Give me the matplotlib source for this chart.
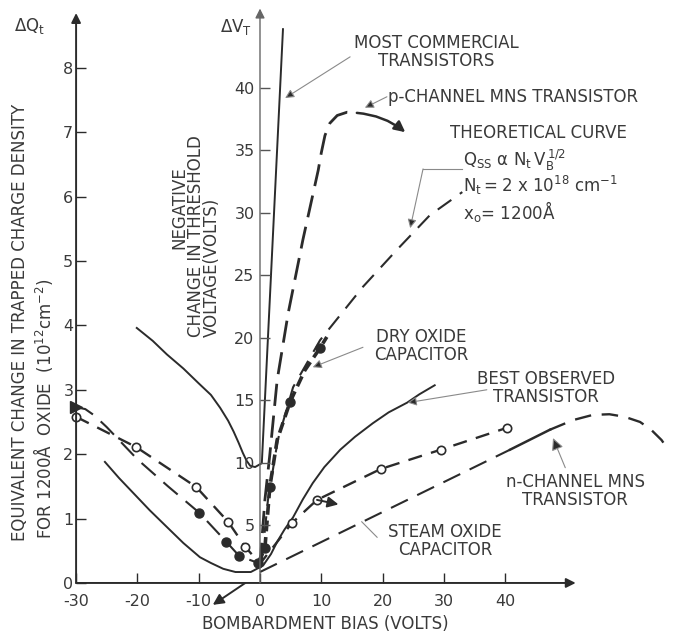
import matplotlib
matplotlib.use('Agg')
import matplotlib.pyplot as plt
import numpy as np

plt.rcParams['font.family'] = ['DejaVu Sans']
plt.rcParams['axes.unicode_minus'] = False

INK = '#2b2b2b'
TXT = '#3a3a3a'
LEAD = '#8a8a8a'

# bombardment bias (V) vs equivalent trapped charge (1e12 cm^-2)
commercial_v = [-20.1, -17.5, -15.2, -12.5, -10.0, -8.0, -6.5, -5.2, -4.3, -3.5,
                -2.8, -2.2, -1.6, -0.8, 0.3, 3.75]
commercial_q = [3.96, 3.76, 3.55, 3.33, 3.10, 2.92, 2.72, 2.52, 2.35, 2.18,
                2.02, 1.90, 1.82, 1.80, 1.86, 8.60]

best_v = [-25.3, -23.0, -20.7, -18.0, -15.2, -12.5, -9.8, -8.0, -6.0, -4.0, -1.5,
          0.5, 1.8, 2.8, 4.0, 5.4, 7.0, 8.6, 10.5, 13.1, 15.5, 18.4, 21.0, 24.0, 26.0, 28.5]
best_q = [1.88, 1.63, 1.40, 1.13, 0.87, 0.62, 0.40, 0.31, 0.22, 0.17, 0.17,
          0.27, 0.45, 0.64, 0.83, 1.02, 1.30, 1.55, 1.80, 2.07, 2.27, 2.48, 2.65, 2.80, 2.93, 3.07]

pch_v = [0.0, 0.8, 1.6, 2.8, 4.6, 7.0, 9.5, 10.0, 10.6, 11.4, 12.6, 14.2, 15.8]
pch_q = [0.28, 1.29, 1.99, 3.15, 4.19, 5.33, 6.41, 6.68, 6.95, 7.14, 7.26, 7.31, 7.30]

theo_v = [0.3, 1.3, 2.9, 5.4, 9.8, 16.8, 22.3, 27.7, 33.0]
theo_q = [0.36, 1.29, 2.22, 3.04, 3.77, 4.60, 5.17, 5.71, 6.07]

dry_v = [-0.3, 0.8, 1.6, 2.8, 4.9, 7.3, 9.8, 10.9]
dry_q = [0.31, 0.54, 1.49, 2.22, 2.81, 3.30, 3.65, 3.82]
dry_pts_v = [-0.3, 0.8, 1.6, 4.9, 9.8]
dry_pts_q = [0.31, 0.54, 1.49, 2.81, 3.65]

dryneg_v = [-30.0, -28.5, -27.0, -25.0, -20.0, -15.0, -9.9, -5.5, -3.4, -0.3]
dryneg_q = [2.73, 2.70, 2.60, 2.42, 1.92, 1.50, 1.09, 0.64, 0.42, 0.31]
dryneg_pts_v = [-9.9, -5.5, -3.4]
dryneg_pts_q = [1.09, 0.64, 0.42]

nmns_v = [-30.0, -20.2, -10.4, -5.2, -2.4, 0.0, 2.5, 5.2, 9.3, 19.7, 29.5, 40.3]
nmns_q = [2.58, 2.11, 1.49, 0.95, 0.56, 0.30, 0.60, 0.93, 1.29, 1.77, 2.07, 2.41]
nmns_pts_v = [-30.0, -20.2, -10.4, -5.2, -2.4, 5.2, 9.3, 19.7, 29.5, 40.3]
nmns_pts_q = [2.58, 2.11, 1.49, 0.95, 0.56, 0.93, 1.29, 1.77, 2.07, 2.41]

steam_v = [0.0, 40.8]
steam_q = [0.17, 2.07]
nseg_v = [40.8, 47.3]
nseg_q = [2.07, 2.38]
narc_v = [47.3, 51.1, 54.3, 57.0, 59.5, 62.0, 63.8, 65.5, 66.6]
narc_q = [2.38, 2.53, 2.61, 2.62, 2.58, 2.50, 2.38, 2.22, 2.07]

q_ticks = [0, 1, 2, 3, 4, 5, 6, 7, 8]
v_ticks = [-30, -20, -10, 0, 10, 20, 30, 40]
dv_ticks = [5, 10, 15, 20, 25, 30, 35, 40]

W, H = 694, 634


def fpx(x, y):
    return x / W, 1 - y / H


fig = plt.figure(figsize=(W / 100, H / 100), dpi=100)
ax = fig.add_axes([57.7 / W, 12.4 / H, 631.4 / W, 618.2 / H])
ax.set_xlim(-33, 70)
ax.set_ylim(-0.6, 9)
for s in ax.spines.values():
    s.set_visible(False)
ax.spines['left'].set_position(('data', -30))
ax.spines['bottom'].set_position(('data', 0))
ax.set_xticks(v_ticks)
ax.set_yticks(q_ticks)
ax.tick_params(axis='y', direction='in', length=7, width=1.0, pad=2,
               labelsize=11.5, colors=INK, labelcolor=TXT)
ax.tick_params(axis='x', direction='in', length=7, width=1.0, pad=8,
               labelsize=11.5, colors=INK, labelcolor=TXT)
ax.patch.set_alpha(0)

# second scale: threshold voltage shift on the x = 0 line
ax2 = ax.twinx()
ax2.set_ylim(-2.74, 46.77)
for s in ax2.spines.values():
    s.set_visible(False)
ax2.yaxis.set_ticks_position('left')
ax2.spines['left'].set_position(('data', 0))
ax2.set_yticks(dv_ticks)
ax2.tick_params(axis='y', direction='in', length=7, width=1.0, pad=4,
                labelsize=11.5, colors='#555555', labelcolor=TXT)

arrow_axis = dict(arrowstyle='-|>', color=INK, lw=1.4, shrinkA=0, shrinkB=0,
                  mutation_scale=14)
ax.annotate('', xy=(-30, 8.85), xytext=(-30, 0), arrowprops=arrow_axis)
ax.annotate('', xy=(51.5, 0), xytext=(-30, 0), arrowprops=arrow_axis)
ax.annotate('', xy=(0, 8.92), xytext=(0, 0), arrowprops=dict(arrow_axis, color='#666666', lw=1.0))

# curves
ax.plot(commercial_v, commercial_q, color=INK, lw=1.4)
ax.plot(best_v, best_q, color=INK, lw=1.4)
ax.plot(pch_v, pch_q, color=INK, lw=2.0, dashes=(8, 3.5))
ax.plot(theo_v, theo_q, color=INK, lw=1.5, dashes=(8, 5))
ax.plot(dry_v, dry_q, color=INK, lw=2.6, dashes=(3, 1.6))
ax.plot(dry_pts_v, dry_pts_q, 'o', color=INK, ms=6.5)
ax.plot(dryneg_v, dryneg_q, color=INK, lw=1.5, dashes=(9, 5))
ax.plot(dryneg_pts_v, dryneg_pts_q, 'o', color=INK, ms=6.5)
ax.plot([-30], [2.73], marker='>', color=INK, ms=9, clip_on=False)
ax.plot(nmns_v, nmns_q, color=INK, lw=1.7, dashes=(6, 4))
ax.plot(nmns_pts_v, nmns_pts_q, 'o', mfc='white', mec=INK, mew=1.2, ms=6, clip_on=False)
ax.plot(steam_v, steam_q, color=INK, lw=1.5, dashes=(9, 5))
ax.plot(nseg_v, nseg_q, color=INK, lw=1.8)
ax.plot(narc_v, narc_q, color=INK, lw=1.7, dashes=(7, 4.5))

# small pointers on the curves
head = dict(arrowstyle='-|>', color=INK, lw=1.8, shrinkA=0, shrinkB=0, mutation_scale=16)
ax.annotate('', xy=(23.7, 7.0), xytext=(15.8, 7.30),
            arrowprops=dict(head, connectionstyle='arc3,rad=-0.15'))
ax.annotate('', xy=(-7.7, -0.34), xytext=(-2.4, 0.0), arrowprops=dict(head, lw=1.4))
ax.annotate('', xy=(12.8, 1.22), xytext=(9.3, 1.29), arrowprops=dict(head, lw=1.4))

# label leaders
lead = dict(arrowstyle='-|>', color=LEAD, lw=0.8, shrinkA=0, shrinkB=0,
            mutation_scale=13, fc=INK, ec=LEAD)
ax.annotate('', xy=(4.1, 7.53), xytext=(14.7, 8.17), arrowprops=lead)
ax.annotate('', xy=(17.1, 7.38), xytext=(20.7, 7.55), arrowprops=lead)
ax.plot([33.0, 26.6], [6.43, 6.43], color=LEAD, lw=0.8)
ax.annotate('', xy=(24.5, 5.51), xytext=(26.6, 6.43), arrowprops=lead)
ax.annotate('', xy=(8.6, 3.35), xytext=(16.8, 3.66), arrowprops=lead)
ax.annotate('', xy=(24.1, 2.80), xytext=(37.0, 3.00), arrowprops=lead)
ax.annotate('', xy=(47.8, 2.25), xytext=(49.8, 1.79), arrowprops=dict(lead, mutation_scale=18))
ax.plot([19.1, 16.6], [0.71, 0.95], color=LEAD, lw=0.8)

# text
tk = dict(color=TXT, fontsize=12)
two = dict(ha='center', va='center', multialignment='center', linespacing=0.95, **tk)
fig.text(*fpx(30, 26), r'$\mathregular{\Delta Q_t}$', ha='center', va='center', **tk)
fig.text(*fpx(236, 27), r'$\mathregular{\Delta V_T}$', ha='center', va='center', **tk)
fig.text(*fpx(20, 322), 'EQUIVALENT CHANGE IN TRAPPED CHARGE DENSITY',
         rotation=90, ha='center', va='center', **tk)
fig.text(*fpx(43, 409), r'FOR 1200Å  OXIDE  ($\mathregular{10^{12}cm^{-2}}$)',
         rotation=90, ha='center', va='center', **tk)
fig.text(*fpx(179, 208), 'NEGATIVE', rotation=90, ha='center', va='center', **tk)
fig.text(*fpx(204, 337), 'CHANGE IN THRESHOLD\nVOLTAGE(VOLTS)', rotation=90,
         ha='center', va='bottom', multialignment='left', linespacing=0.9, **tk)

fig.text(*fpx(436, 52), 'MOST COMMERCIAL\nTRANSISTORS', **two)
fig.text(*fpx(388, 97), 'p-CHANNEL MNS TRANSISTOR', ha='left', va='center', **tk)
fig.text(*fpx(450, 133), 'THEORETICAL CURVE', ha='left', va='center', **tk)
fig.text(*fpx(463, 160), r'$\mathregular{Q_{SS}\ \alpha\ N_t\,V_B^{\,1/2}}$', ha='left', va='center', **tk)
fig.text(*fpx(463, 185), r'$\mathregular{N_t = 2\ x\ 10^{18}\ cm^{-1}}$', ha='left', va='center', **tk)
fig.text(*fpx(463, 212), r'$\mathregular{x_o}$= 1200Å', ha='left', va='center', **tk)
fig.text(*fpx(421, 346), 'DRY OXIDE\nCAPACITOR', **two)
fig.text(*fpx(546, 388), 'BEST OBSERVED\nTRANSISTOR', **two)
fig.text(*fpx(575, 491), 'n-CHANNEL MNS\nTRANSISTOR', **two)
fig.text(*fpx(445, 541), 'STEAM OXIDE\nCAPACITOR', **two)
fig.text(*fpx(325, 624), 'BOMBARDMENT BIAS (VOLTS)', ha='center', va='center', **tk)

fig.savefig('out.png', dpi=100, facecolor='white')
